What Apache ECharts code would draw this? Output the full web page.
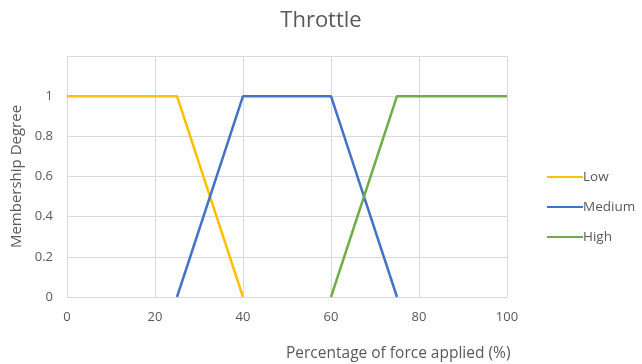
<!DOCTYPE html>
<html>
<head>
<meta charset="utf-8">
<script src="https://cdn.jsdelivr.net/npm/echarts@6/dist/echarts.min.js"></script>
<style>
  html, body { margin: 0; padding: 0; background: #fff; }
  #chart { width: 642px; height: 364px; }
</style>
</head>
<body>
<div id="chart"></div>
<script>
// Fuzzy membership functions for throttle force (x = %, y = degree)
const lowPoints = [[0, 1], [25, 1], [40, 0]];
const mediumPoints = [[25, 0], [40, 1], [60, 1], [75, 0]];
const highPoints = [[60, 0], [75, 1], [100, 1]];
const seriesNames = ['Low', 'Medium', 'High'];
const seriesColors = ['#FFC000', '#4472C4', '#70AD47'];

const FONT = '"Open Sans", "Noto Sans", sans-serif';
const TEXT = '#595959';

const chart = echarts.init(document.getElementById('chart'), null, { renderer: 'canvas' });

const lines = [lowPoints, mediumPoints, highPoints].map((pts, i) => ({
  name: seriesNames[i],
  type: 'line',
  data: pts,
  showSymbol: false,
  symbol: 'none',
  lineStyle: { width: 2.5, color: seriesColors[i] },
  itemStyle: { color: seriesColors[i] },
  animation: false
}));

chart.setOption({
  animation: false,
  title: [{
    text: 'Throttle',
    left: 'center',
    top: 5,
    textStyle: { fontFamily: FONT, fontSize: 22, fontWeight: 'normal', color: TEXT }
  }, {
    text: 'Percentage of force applied (%)',
    left: 281,
    top: 341,
    textStyle: { fontFamily: FONT, fontSize: 15.5, fontWeight: 'normal', color: TEXT }
  }],
  grid: { left: 67, right: 135, top: 56, bottom: 67 },
  legend: {
    orient: 'vertical',
    left: 542,
    top: 164,
    itemWidth: 36,
    itemHeight: 16,
    itemGap: 14,
    icon: 'path://M0,7 L36,7 L36,9 L0,9 Z',
    textStyle: { fontFamily: FONT, fontSize: 13.5, color: TEXT, padding: [0, 0, 0, -5], lineHeight: 16 },
    data: seriesNames
  },
  xAxis: {
    type: 'value',
    min: 0,
    max: 100,
    interval: 20,
    axisLine: { show: false },
    axisTick: { show: false },
    axisLabel: { fontFamily: FONT, fontSize: 13, color: TEXT, margin: 14 },
    splitLine: { show: true, lineStyle: { color: '#D9D9D9', width: 1 } }
  },
  yAxis: {
    type: 'value',
    min: 0,
    max: 1.2,
    interval: 0.2,
    name: 'Membership Degree',
    nameLocation: 'middle',
    nameGap: 42,
    nameTextStyle: { fontFamily: FONT, fontSize: 15, color: TEXT },
    axisLine: { show: false },
    axisTick: { show: false },
    axisLabel: {
      fontFamily: FONT, fontSize: 13, color: TEXT, margin: 14,
      formatter: v => (v > 1.1 ? '' : String(Math.round(v * 10) / 10))
    },
    splitLine: { show: true, lineStyle: { color: '#D9D9D9', width: 1 } }
  },
  series: lines
});
</script>
</body>
</html>
